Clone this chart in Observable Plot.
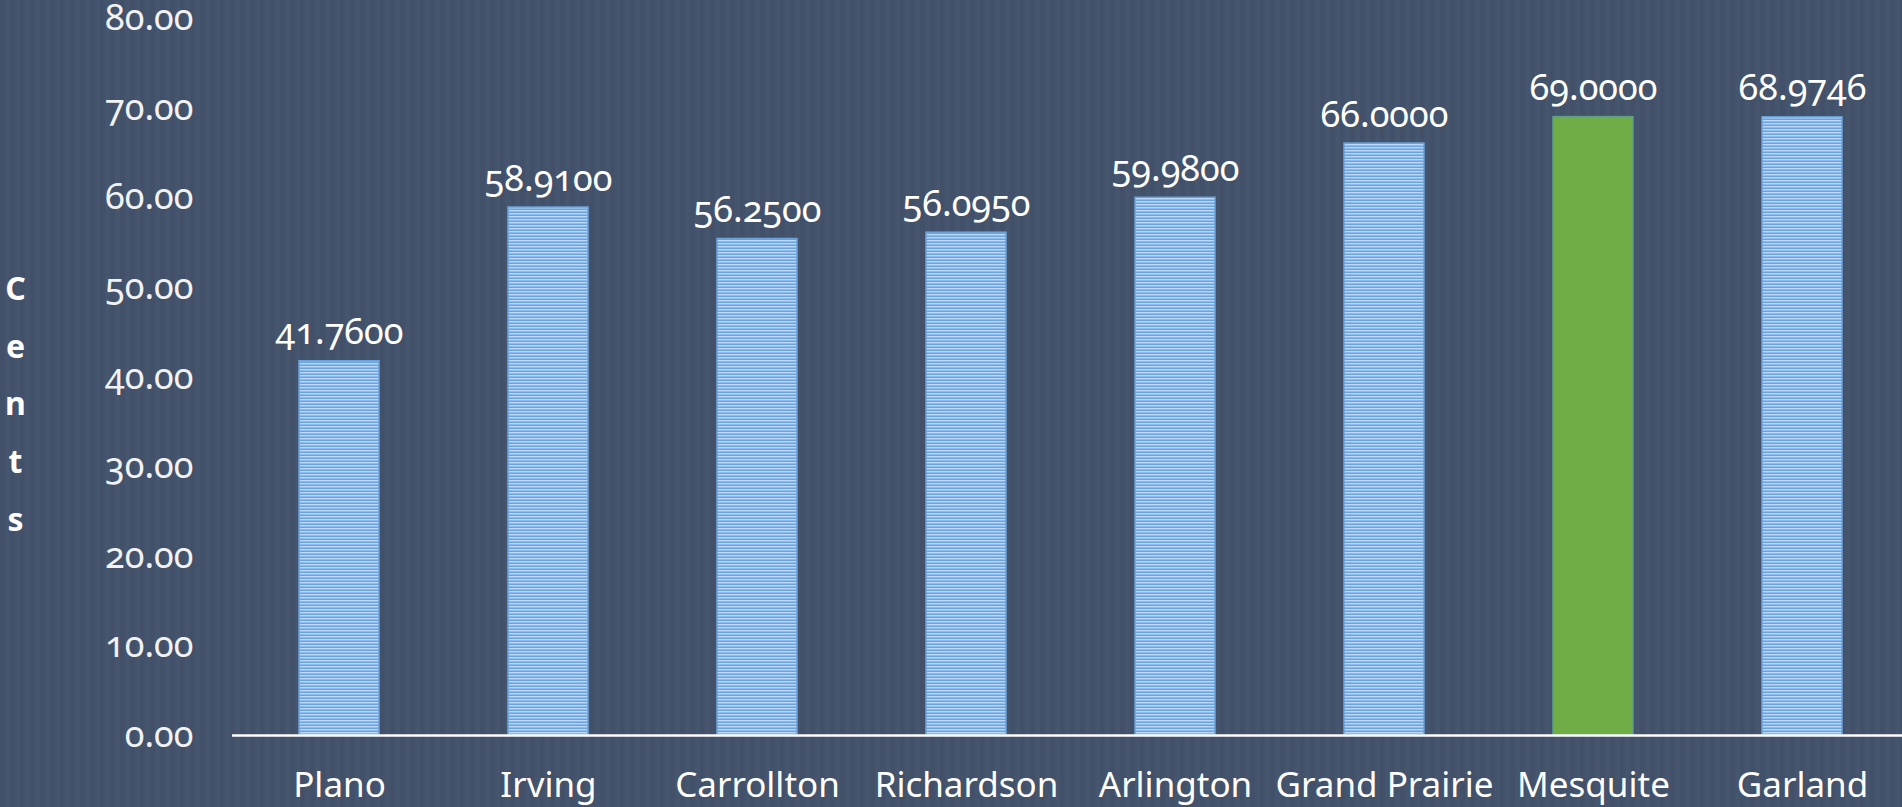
<!DOCTYPE html>
<html>
<head>
<meta charset="utf-8">
<script src="https://cdn.jsdelivr.net/npm/d3@7"></script>
<script src="https://cdn.jsdelivr.net/npm/@observablehq/plot@0.6"></script>
<style>
  html, body { margin: 0; padding: 0; }
  body {
    width: 1902px; height: 807px; overflow: hidden;
    background: repeating-linear-gradient(90deg, #425169 0px, #425169 5px, #45556D 5px, #45556D 10px);
  }
  #chart svg { display: block; background: none; }
</style>
</head>
<body>
<div id="chart"></div>
<script>
const cities = ["Plano", "Irving", "Carrollton", "Richardson", "Arlington", "Grand Prairie", "Mesquite", "Garland"];
// bar heights as drawn in the picture
const cents = [41.76, 58.91, 55.4, 56.1, 60.0, 66.05, 69.0, 68.97];
// value labels as printed above the bars
const valueLabels = ["41.7600", "58.9100", "56.2500", "56.0950", "59.9800", "66.0000", "69.0000", "68.9746"];
const yTicks = [0, 10, 20, 30, 40, 50, 60, 70, 80];
const highlight = "Mesquite";
const axisTitle = "Cents";

const data = cities.map((city, i) => ({city, value: cents[i], label: valueLabels[i]}));

const font = "'Noto Sans', 'Open Sans', sans-serif";
const numVariant = "oldstyle-nums";

const chart = Plot.plot({
  width: 1902,
  height: 807,
  marginTop: 18,
  marginBottom: 72,
  marginLeft: 232,
  marginRight: 0,
  style: {
    fontFamily: font,
    fontVariantNumeric: numVariant,
    color: "#FFFFFF",
    background: "none",
    overflow: "visible"
  },
  x: {domain: cities, range: [232, 1909], paddingInner: 0.618, paddingOuter: 0.309},
  y: {domain: [0, 80]},
  color: {type: "identity"},
  marks: [
    Plot.axisY({
      ticks: yTicks, tickSize: 0, tickPadding: 39, fontSize: 36, fontVariant: numVariant,
      tickFormat: d => d.toFixed(2), label: null, fill: "#F2F2F2"
    }),
    Plot.axisX({tickSize: 0, tickPadding: 37, fontSize: 35, label: null, fill: "#FFFFFF"}),
    Plot.barY(data, {
      x: "city", y: "value",
      fill: d => d.city === highlight ? "#70AD47" : "url(#stripes)",
      stroke: d => d.city === highlight ? "#5E9E86" : "#6AA2DC",
      strokeWidth: 1.5
    }),
    Plot.ruleY([0], {stroke: "#FFFFFF", strokeWidth: 2.5}),
    Plot.text(data, {
      x: "city", y: "value", text: "label",
      lineAnchor: "bottom", dy: -17, fontSize: 36, fill: "#FFFFFF", fontVariant: numVariant
    }),
    Plot.text([axisTitle.split("").join("\n")], {
      frameAnchor: "left", dx: -217, dy: 20, textAnchor: "middle", lineAnchor: "middle",
      lineHeight: 1.8, fontSize: 32, fontWeight: "bold", fill: "#FFFFFF"
    })
  ]
});

// striped fill pattern for the bars
const svg = d3.select(chart);
const defs = svg.insert("defs", ":first-child");
const pat = defs.append("pattern")
  .attr("id", "stripes")
  .attr("patternUnits", "userSpaceOnUse")
  .attr("width", 10).attr("height", 3);
pat.append("rect").attr("width", 10).attr("height", 1).attr("y", 0).attr("fill", "#BCD7F3");
pat.append("rect").attr("width", 10).attr("height", 1).attr("y", 1).attr("fill", "#8EBBEA");
pat.append("rect").attr("width", 10).attr("height", 1).attr("y", 2).attr("fill", "#6AA3E0");

document.getElementById("chart").appendChild(chart);
</script>
</body>
</html>
